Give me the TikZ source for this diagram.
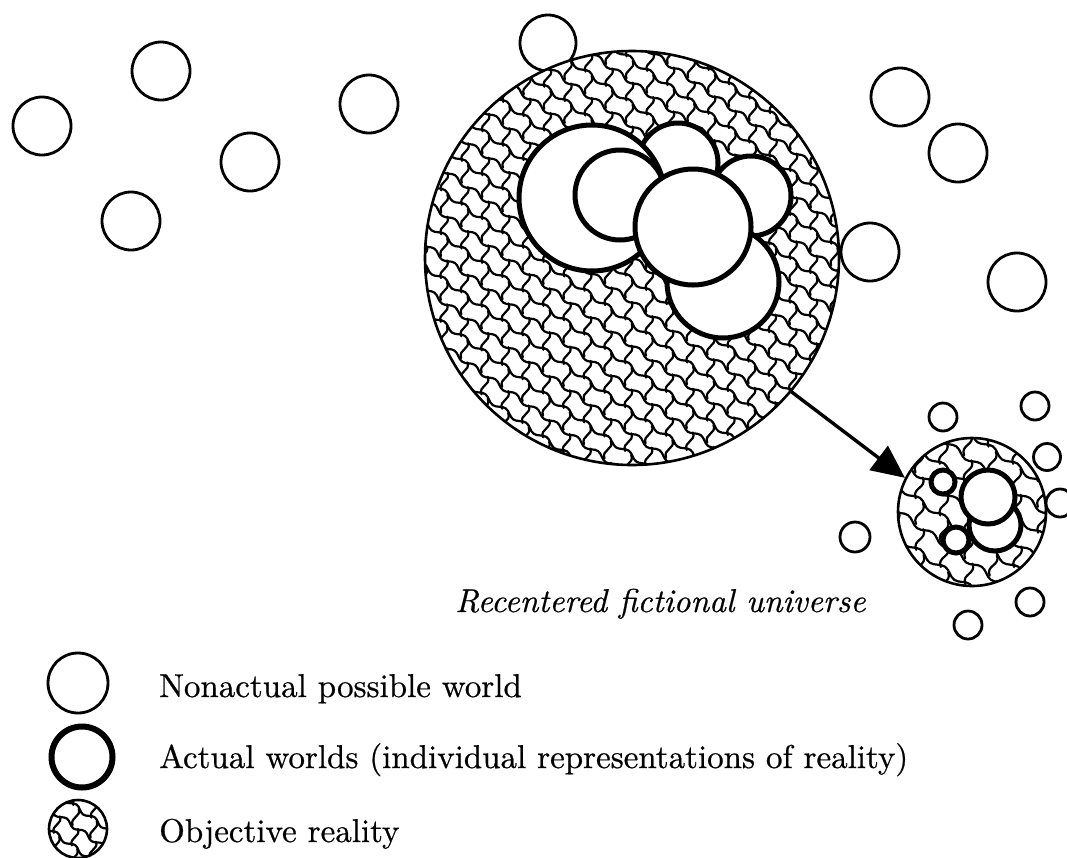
\documentclass[tikz,border=0pt]{standalone}
\usepackage{fontspec}
\newfontfamily\legfont{lmroman10-regular.otf}[FakeBold=0.6, ItalicFont=lmroman10-italic.otf, ItalicFeatures={FakeBold=0.6}]
\usetikzlibrary{arrows.meta,decorations.pathmorphing}
\tikzset{
  nonact/.style={circle, draw, fill=white, line width=2.8pt, inner sep=0pt},
  actual/.style={circle, draw, fill=white, line width=5pt, inner sep=0pt},
  objr/.style={circle, draw, line width=2.6pt, inner sep=0pt},
  hatchln/.style={line width=2.2pt, line join=round, line cap=round},
  legtext/.style={font=\legfont\fontsize{33}{40}\selectfont, anchor=base west, inner sep=0pt},
  labtext/.style={font=\legfont\fontsize{33}{40}\selectfont\itshape, anchor=base west, inner sep=0pt},
  link/.style={line width=3.4pt, -{Triangle[length=33pt,width=30pt]}, shorten <=-1pt}
}
\newcommand\orhatch[5]{%
  \fill[white] (#1,#2) circle[radius=#3];
  \begin{scope}
    \clip (#1,#2) circle[radius=#3];
    \begin{scope}[shift={(#1,#2)}, rotate=-35]
      \pgfmathtruncatemacro\nrow{ceil(#3/#5)+1}
      \pgfmathtruncatemacro\ncol{ceil(#3/#4)+2}
      \pgfmathsetmacro\amp{0.13*#5}
      \foreach \j in {-\nrow,...,\nrow}{
        \pgfmathsetmacro\yy{\j*#5}
        \pgfmathsetmacro\off{mod(abs(\j),2)*0.5*#4}
        \draw[hatchln, decorate, decoration={snake, amplitude=\amp pt, segment length=#4 pt}]
          (-\ncol*#4, \yy) -- (\ncol*#4, \yy);
        \foreach \i in {-\ncol,...,\ncol}{
          \pgfmathsetmacro\xx{\i*#4+\off}
          \draw[hatchln] (\xx,\yy) .. controls (\xx+0.32*#4,\yy+0.3*#5) and (\xx-0.12*#4,\yy+0.7*#5) .. (\xx+0.2*#4,\yy+#5);
        }
      }
    \end{scope}
  \end{scope}}
\begin{document}
\begin{tikzpicture}[x=1pt, y=-1pt]
\fill[white] (0,0) rectangle (1067,857);
\useasboundingbox (0,0) rectangle (1067,857);

% nonactual possible worlds
\node[nonact, minimum size=58pt] (n1) at (42,126) {};
\node[nonact, minimum size=58pt] (n2) at (161,71) {};
\node[nonact, minimum size=58pt] (n3) at (131,221) {};
\node[nonact, minimum size=58pt] (n4) at (250,162) {};
\node[nonact, minimum size=58pt] (n5) at (369,104) {};
\node[nonact, minimum size=56pt] (n6) at (548,43) {};
\node[nonact, minimum size=58pt] (n7) at (900,97) {};
\node[nonact, minimum size=58pt] (n8) at (958,153) {};
\node[nonact, minimum size=58pt] (n9) at (870,252) {};
\node[nonact, minimum size=58pt] (n10) at (1017,282) {};
\node[nonact, minimum size=28pt] (s1) at (943,417) {};
\node[nonact, minimum size=28pt] (s2) at (1035,406) {};
\node[nonact, minimum size=27pt] (s3) at (1047,457) {};
\node[nonact, minimum size=28pt] (s4) at (1060,503) {};
\node[nonact, minimum size=30pt] (s5) at (855,537) {};
\node[nonact, minimum size=28pt] (s6) at (1030,602) {};
\node[nonact, minimum size=28pt] (s7) at (968,625) {};

% big objective reality
\orhatch{632}{258}{207}{25}{18}
\node[objr, minimum size=414pt] (big) at (632,258) {};
\node[actual, minimum size=80pt] (w3) at (678,163) {};
\node[actual, minimum size=80pt] (w4) at (751,196) {};
\node[actual, minimum size=146pt] (w1) at (592,198) {};
\node[actual, minimum size=90pt] (w2) at (620,195) {};
\node[actual, minimum size=112pt] (w6) at (723,282) {};
\node[actual, minimum size=116pt] (w5) at (693,227) {};

% small recentered universe
\orhatch{972}{512}{74}{30}{21}
\node[objr, minimum size=148pt] (small) at (972,512) {};
\node[actual, minimum size=52pt] (r4) at (995,525) {};
\node[actual, minimum size=54pt] (r2) at (988,497) {};
\node[actual, minimum size=24pt] (r1) at (943,482) {};
\node[actual, minimum size=26pt] (r3) at (956,540) {};

\draw[link] (big.-40) -- (small.153);

\node[labtext] (lab) at (455,612) {Recentered fictional universe};

% legend
\node[nonact, minimum size=60pt] (l1) at (78,683) {};
\node[actual, line width=6pt, minimum size=61pt] (l2) at (82,757) {};
\orhatch{78}{829}{29}{22}{17}
\node[objr, minimum size=58pt] (l3) at (78,829) {};
\node[legtext] (t1) at (159,697) {Nonactual possible world};
\node[legtext] (t2) at (159,768) {Actual worlds (individual representations of reality)};
\node[legtext] (t3) at (159,842) {Objective reality};
\end{tikzpicture}
\end{document}
